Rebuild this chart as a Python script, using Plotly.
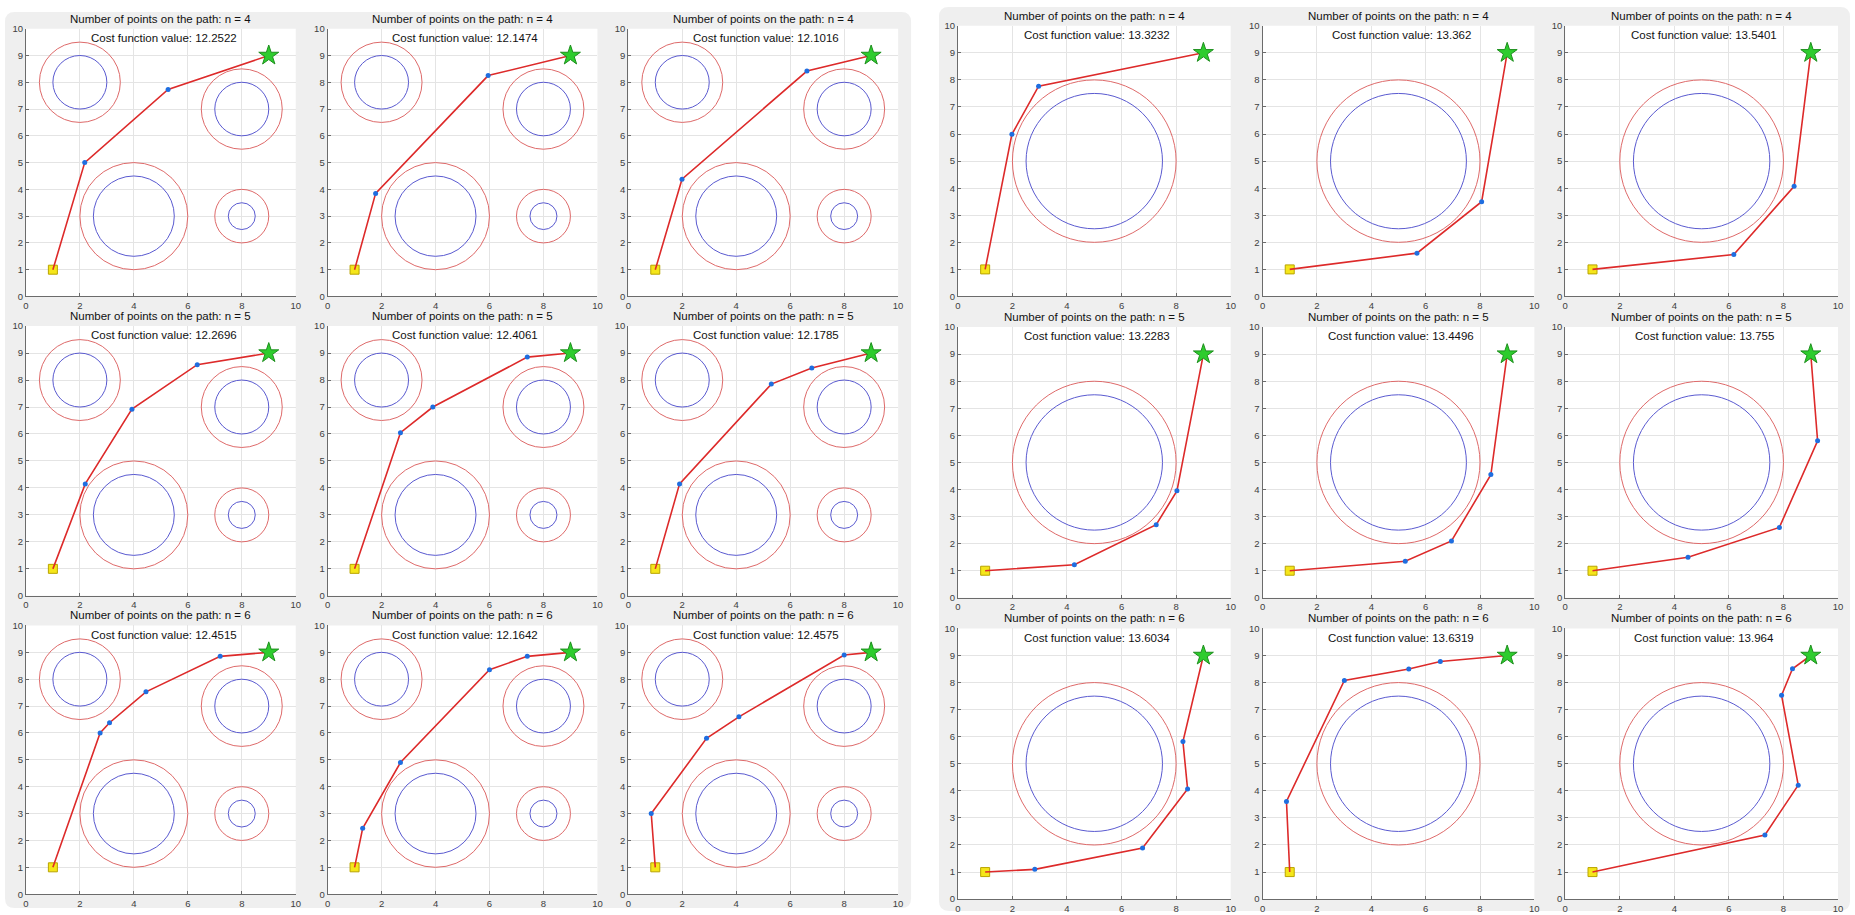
import plotly.graph_objects as go

# ---------------- data ----------------
# obstacle map used in the left group of runs: centres, inner (obstacle) and outer (safety) radii
LEFT_CX = [2, 8, 4, 8]
LEFT_CY = [8, 7, 3, 3]
LEFT_R_INNER = [1.0, 1.0, 1.5, 0.5]
LEFT_R_OUTER = [1.5, 1.5, 2.0, 1.0]

# obstacle map used in the right group of runs
RIGHT_CX = [5]
RIGHT_CY = [5]
RIGHT_R_INNER = [2.5]
RIGHT_R_OUTER = [3.0]

START = (1, 1)
GOAL = (9, 9)

ROW_N = [4, 5, 6]

LEFT_COSTS = [12.2522, 12.1474, 12.1016,
              12.2696, 12.4061, 12.1785,
              12.4515, 12.1642, 12.4575]
RIGHT_COSTS = [13.3232, 13.362, 13.5401,
               13.2283, 13.4496, 13.755,
               13.6034, 13.6319, 13.964]

# intermediate waypoints of each optimised path (start and goal excluded)
L11_x = [2.18, 5.27];              L11_y = [5.00, 7.73]
L12_x = [1.78, 5.95];              L12_y = [3.85, 8.25]
L13_x = [1.99, 6.62];              L13_y = [4.38, 8.42]
L21_x = [2.20, 3.93, 6.35];        L21_y = [4.15, 6.92, 8.57]
L22_x = [2.70, 3.90, 7.40];        L22_y = [6.05, 7.00, 8.85]
L23_x = [1.90, 5.30, 6.80];        L23_y = [4.15, 7.85, 8.45]
L31_x = [2.75, 3.10, 4.45, 7.20];  L31_y = [6.00, 6.38, 7.53, 8.85]
L32_x = [1.30, 2.70, 6.00, 7.40];  L32_y = [2.45, 4.90, 8.35, 8.85]
L33_x = [0.85, 2.90, 4.10, 8.00];  L33_y = [3.00, 5.80, 6.60, 8.90]

R11_x = [1.98, 2.96];              R11_y = [5.99, 7.77]
R12_x = [5.68, 8.06];              R12_y = [1.60, 3.50]
R13_x = [6.18, 8.39];              R13_y = [1.55, 4.07]
R21_x = [4.27, 7.27, 8.03];        R21_y = [1.22, 2.70, 3.95]
R22_x = [5.25, 6.95, 8.40];        R22_y = [1.35, 2.10, 4.55]
R23_x = [4.50, 7.85, 9.25];        R23_y = [1.50, 2.60, 5.80]
R31_x = [2.82, 6.77, 8.42, 8.25];  R31_y = [1.10, 1.89, 4.07, 5.82]
R32_x = [0.88, 3.01, 5.38, 6.54];  R32_y = [3.61, 8.08, 8.50, 8.78]
R33_x = [7.32, 8.54, 7.93, 8.33];  R33_y = [2.37, 4.21, 7.53, 8.51]

LEFT_WAYPOINTS = [(L11_x, L11_y), (L12_x, L12_y), (L13_x, L13_y),
                  (L21_x, L21_y), (L22_x, L22_y), (L23_x, L23_y),
                  (L31_x, L31_y), (L32_x, L32_y), (L33_x, L33_y)]
RIGHT_WAYPOINTS = [(R11_x, R11_y), (R12_x, R12_y), (R13_x, R13_y),
                   (R21_x, R21_y), (R22_x, R22_y), (R23_x, R23_y),
                   (R31_x, R31_y), (R32_x, R32_y), (R33_x, R33_y)]

# ---------------- layout geometry (pixels) ----------------
W, H = 1855, 915
LEFT_COLS = [(23, 294), (326, 597), (628, 899)]
LEFT_ROWS = [(23, 294), (324, 597), (627, 899)]
RIGHT_COLS = [(959, 1233), (1265, 1538), (1569, 1843)]
RIGHT_ROWS = [(20, 294), (325, 599), (630, 904)]

FONT = "Liberation Sans, Arial, Helvetica, sans-serif"
PATH_RED = "#dd2a2a"
OUTER_RED = "#de6a6a"
INNER_BLUE = "#5a5ad0"
POINT_BLUE = "#1f6ee0"
GRID = "#e4e4e4"
AXIS = "#6b6b6b"
PANEL = "#efefef"

fig = go.Figure()
shapes = []
annotations = []


def rounded_panel(x0, y0, x1, y1, r=10):
    # rounded rectangle in paper coordinates from pixel bounds
    rx, ry = r / W, r / H
    a, b = x0 / W, x1 / W
    top, bot = 1 - y0 / H, 1 - y1 / H
    p = (f"M {a + rx},{top} L {b - rx},{top} Q {b},{top} {b},{top - ry} "
         f"L {b},{bot + ry} Q {b},{bot} {b - rx},{bot} "
         f"L {a + rx},{bot} Q {a},{bot} {a},{bot + ry} "
         f"L {a},{top - ry} Q {a},{top} {a + rx},{top} Z")
    return dict(type="path", xref="paper", yref="paper", path=p,
                fillcolor=PANEL, line=dict(width=0), layer="below")


shapes.append(rounded_panel(2, 6, 912, 913))
shapes.append(rounded_panel(940, 1, 1855, 916))

layout_axes = {}
idx = 0
groups = [
    (LEFT_COLS, LEFT_ROWS, LEFT_CX, LEFT_CY, LEFT_R_INNER, LEFT_R_OUTER, LEFT_COSTS, LEFT_WAYPOINTS),
    (RIGHT_COLS, RIGHT_ROWS, RIGHT_CX, RIGHT_CY, RIGHT_R_INNER, RIGHT_R_OUTER, RIGHT_COSTS, RIGHT_WAYPOINTS),
]
for cols, rows, cxs, cys, rin, rout, costs, waypoints in groups:
    for r, (ty, by) in enumerate(rows):
        for c, (lx, rx_) in enumerate(cols):
            idx += 1
            k = r * 3 + c
            xa = "x" if idx == 1 else f"x{idx}"
            ya = "y" if idx == 1 else f"y{idx}"
            xkey = "xaxis" if idx == 1 else f"xaxis{idx}"
            ykey = "yaxis" if idx == 1 else f"yaxis{idx}"
            common = dict(range=[0, 10], showgrid=True, gridcolor=GRID, gridwidth=1,
                          zeroline=False, showline=True, linecolor=AXIS, linewidth=1,
                          ticks="inside", ticklen=3, tickcolor=AXIS,
                          tickfont=dict(family=FONT, size=9.5, color="#404040"),
                          fixedrange=True)
            layout_axes[xkey] = dict(domain=[lx / W, rx_ / W], anchor=ya,
                                     tickmode="array", tickvals=[0, 2, 4, 6, 8, 10], **common)
            layout_axes[ykey] = dict(domain=[1 - by / H, 1 - ty / H], anchor=xa,
                                     tickmode="array", tickvals=list(range(11)), **common)

            # white plotting area on top of the grey panel
            shapes.append(dict(type="rect", xref="paper", yref="paper",
                               x0=lx / W, x1=rx_ / W, y0=1 - by / H, y1=1 - ty / H,
                               fillcolor="white", line=dict(width=0), layer="below"))

            # obstacles: inner boundary and safety margin
            for cx, cy, ri, ro in zip(cxs, cys, rin, rout):
                shapes.append(dict(type="circle", xref=xa, yref=ya,
                                   x0=cx - ro, x1=cx + ro, y0=cy - ro, y1=cy + ro,
                                   line=dict(color=OUTER_RED, width=1)))
                shapes.append(dict(type="circle", xref=xa, yref=ya,
                                   x0=cx - ri, x1=cx + ri, y0=cy - ri, y1=cy + ri,
                                   line=dict(color=INNER_BLUE, width=1)))

            wx, wy = waypoints[k]
            px = [START[0]] + list(wx) + [GOAL[0]]
            py = [START[1]] + list(wy) + [GOAL[1]]

            fig.add_trace(go.Scatter(x=[START[0]], y=[START[1]], mode="markers",
                                     marker=dict(symbol="square", size=9, color="#f5e61a",
                                                 line=dict(color="#b9a400", width=1)),
                                     xaxis=xa, yaxis=ya, showlegend=False, hoverinfo="skip"))
            fig.add_trace(go.Scatter(x=px, y=py, mode="lines",
                                     line=dict(color=PATH_RED, width=1.6),
                                     xaxis=xa, yaxis=ya, showlegend=False))
            fig.add_trace(go.Scatter(x=wx, y=wy, mode="markers",
                                     marker=dict(symbol="circle", size=5, color=POINT_BLUE),
                                     xaxis=xa, yaxis=ya, showlegend=False))
            fig.add_trace(go.Scatter(x=[GOAL[0]], y=[GOAL[1]], mode="markers",
                                     marker=dict(symbol="star", size=15, color="#2ecc2e",
                                                 line=dict(color="#1d8f1d", width=1)),
                                     xaxis=xa, yaxis=ya, showlegend=False, hoverinfo="skip"))

            annotations.append(dict(xref="paper", yref="paper",
                                    x=(lx + rx_) / 2 / W, y=1 - (ty - 2) / H,
                                    xanchor="center", yanchor="bottom", showarrow=False,
                                    text=f"Number of points on the path: n = {ROW_N[r]}",
                                    font=dict(family=FONT, size=11.5, color="#111111")))
            annotations.append(dict(xref=xa, yref=ya, x=5.1, y=9.66,
                                    xanchor="center", yanchor="middle", showarrow=False,
                                    text=f"Cost function value: {costs[k]:g}",
                                    font=dict(family=FONT, size=11.5, color="#111111")))

fig.update_layout(width=W, height=H, margin=dict(l=0, r=0, t=0, b=0),
                  paper_bgcolor="white", plot_bgcolor="white",
                  shapes=shapes, annotations=annotations, **layout_axes)

fig.write_html("out.html")
